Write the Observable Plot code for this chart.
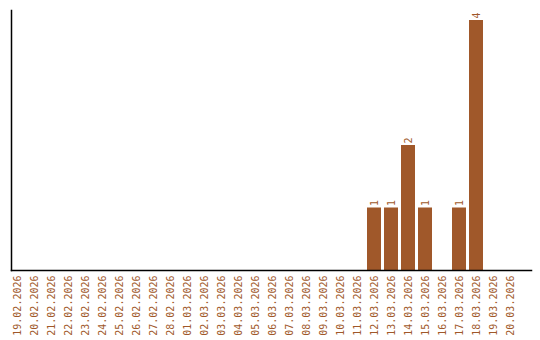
<!DOCTYPE html>
<html>
<head>
<meta charset="utf-8">
<script src="https://cdn.jsdelivr.net/npm/d3@7"></script>
<script src="https://cdn.jsdelivr.net/npm/@observablehq/plot@0.6"></script>
<style>
  body { margin: 0; background: #fff; }
  #chart svg { font-family: "DejaVu Sans Mono", monospace; }
</style>
</head>
<body>
<div id="chart"></div>
<script>
const dates = ["19.02.2026","20.02.2026","21.02.2026","22.02.2026","23.02.2026","24.02.2026","25.02.2026","26.02.2026","27.02.2026","28.02.2026","01.03.2026","02.03.2026","03.03.2026","04.03.2026","05.03.2026","06.03.2026","07.03.2026","08.03.2026","09.03.2026","10.03.2026","11.03.2026","12.03.2026","13.03.2026","14.03.2026","15.03.2026","16.03.2026","17.03.2026","18.03.2026","19.03.2026","20.03.2026"];
const counts = [0,0,0,0,0,0,0,0,0,0,0,0,0,0,0,0,0,0,0,0,0,1,1,2,1,0,1,4,0,0];

const data = dates.map((d, i) => ({date: d, count: counts[i]}));
const nonzero = data.filter(d => d.count > 0);
const color = "#a0582a";

const plot = Plot.plot({
  width: 540,
  height: 340,
  marginLeft: 11,
  marginRight: 9,
  marginTop: 10,
  marginBottom: 70,
  style: {fontFamily: "'DejaVu Sans Mono', monospace", fontSize: "10px", background: "#fff"},
  x: {domain: dates, padding: 0.18, insetLeft: -8, insetRight: 8, label: null},
  y: {domain: [0, 4.16], axis: null},
  marks: [
    Plot.barY(data, {x: "date", y: "count", fill: color}),
    Plot.text(nonzero, {x: "date", y: "count", text: d => String(d.count), rotate: -90, textAnchor: "start", dy: -2, fill: color, fontSize: 10}),
    Plot.axisX({tickSize: 0, tickPadding: 5, tickRotate: -90, fill: color, fontSize: 10, label: null}),
    Plot.frame({anchor: "left", stroke: "#000", strokeWidth: 1.5}),
    Plot.frame({anchor: "bottom", stroke: "#000", strokeWidth: 1.5})
  ]
});
document.getElementById("chart").appendChild(plot);
</script>
</body>
</html>
